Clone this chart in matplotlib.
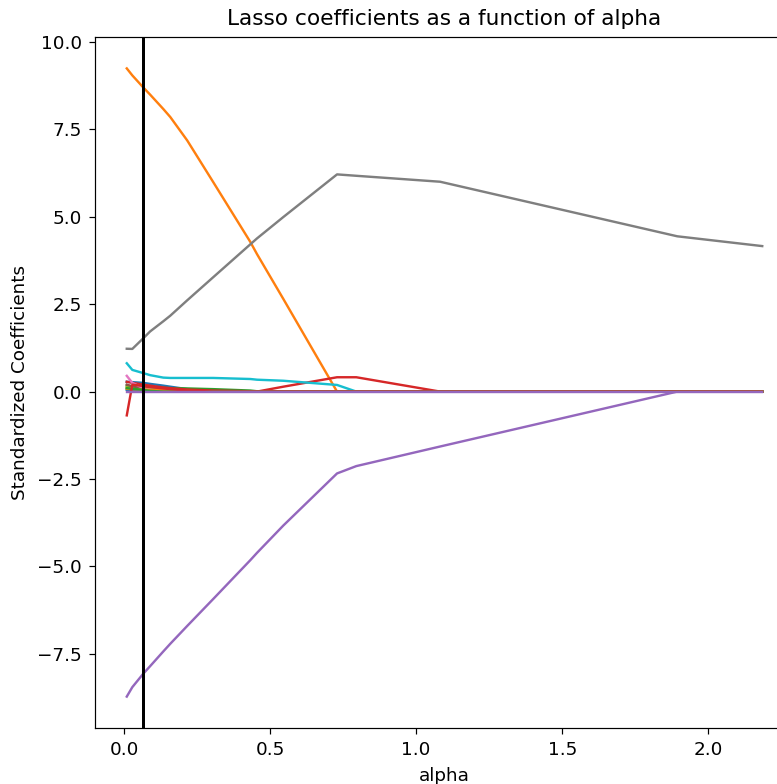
import numpy as np
import matplotlib
matplotlib.use("Agg")
import matplotlib.pyplot as plt

# alpha grid read from the path kinks
alphas = [0.009, 0.028, 0.065, 0.089, 0.134, 0.158, 0.216, 0.305,
          0.432, 0.455, 0.545, 0.729, 0.795, 1.082, 1.894, 2.185]

# coefficients per feature (default colour cycle order)
coef_f0 = [0.28, 0.27, 0.25, 0.22, 0.17, 0.14, 0.07, 0, 0, 0, 0, 0, 0, 0, 0, 0]
coef_f1 = [9.24, 9.04, 8.70, 8.49, 8.08, 7.85, 7.18, 5.99, 4.28, 3.93, 2.65, 0, 0, 0, 0, 0]
coef_f2 = [0.17, 0.14, 0.13, 0.12, 0.11, 0.10, 0.09, 0.07, 0.03, 0.01, 0, 0, 0, 0, 0, 0]
coef_f3 = [0.28, 0.25, 0.20, 0.17, 0.12, 0.10, 0.06, 0.03, 0.01, 0.0, 0.14, 0.41, 0.41, 0, 0, 0]
coef_f4 = [-8.72, -8.45, -8.07, -7.85, -7.43, -7.21, -6.70, -5.93, -4.82, -4.61, -3.83, -2.34, -2.13, -1.57, 0, 0]
coef_f5 = [0.20, 0.15, 0.06, 0.02, 0, 0, 0, 0, 0, 0, 0, 0, 0, 0, 0, 0]
coef_f6 = [0.45, 0.25, 0.10, 0.05, 0, 0, 0, 0, 0, 0, 0, 0, 0, 0, 0, 0]
coef_f7 = [1.225, 1.22, 1.52, 1.72, 2.01, 2.17, 2.61, 3.27, 4.21, 4.38, 4.99, 6.21, 6.17, 6.00, 4.44, 4.16]
coef_f8 = [0.12, 0.08, 0.03, 0, 0, 0, 0, 0, 0, 0, 0, 0, 0, 0, 0, 0]
coef_f9 = [0.81, 0.62, 0.53, 0.47, 0.40, 0.39, 0.39, 0.39, 0.36, 0.34, 0.31, 0.19, 0.0, 0, 0, 0]
coef_f10 = [0.05, 0.04, 0.02, 0, 0, 0, 0, 0, 0, 0, 0, 0, 0, 0, 0, 0]
coef_f11 = [0.08, 0.07, 0.06, 0.05, 0.04, 0.03, 0.02, 0, 0, 0, 0, 0, 0, 0, 0, 0]
coef_f12 = [0.10, 0.08, 0.05, 0.02, 0, 0, 0, 0, 0, 0, 0, 0, 0, 0, 0, 0]
coef_f13 = [-0.68, 0.20, 0.16, 0.13, 0.09, 0.07, 0.03, 0, 0, 0, 0, 0, 0, 0, 0, 0]
coef_f14 = [0, 0, 0, 0, 0, 0, 0, 0, 0, 0, 0, 0, 0, 0, 0, 0]

best_alpha = 0.065

coefs = np.array([coef_f0, coef_f1, coef_f2, coef_f3, coef_f4, coef_f5, coef_f6,
                  coef_f7, coef_f8, coef_f9, coef_f10, coef_f11, coef_f12,
                  coef_f13, coef_f14]).T

plt.rcParams["font.size"] = 9.2

dpi = 144
fig = plt.figure(figsize=(777 / dpi, 784 / dpi), dpi=dpi)
# axes runs past the right edge, like the cropped original
ax = fig.add_axes([95 / 777, 56 / 784, 699 / 777, 691 / 784])

ax.plot(alphas, coefs, linewidth=1.2)
ax.axvline(best_alpha, color="black", linewidth=1.5)

ax.set_title("Lasso coefficients as a function of alpha", fontsize=10.8)
ax.set_xlabel("alpha")
ax.set_ylabel("Standardized Coefficients")

for s in ax.spines.values():
    s.set_linewidth(0.6)
ax.tick_params(width=0.6, length=3)

fig.savefig("out.png", dpi=dpi)
